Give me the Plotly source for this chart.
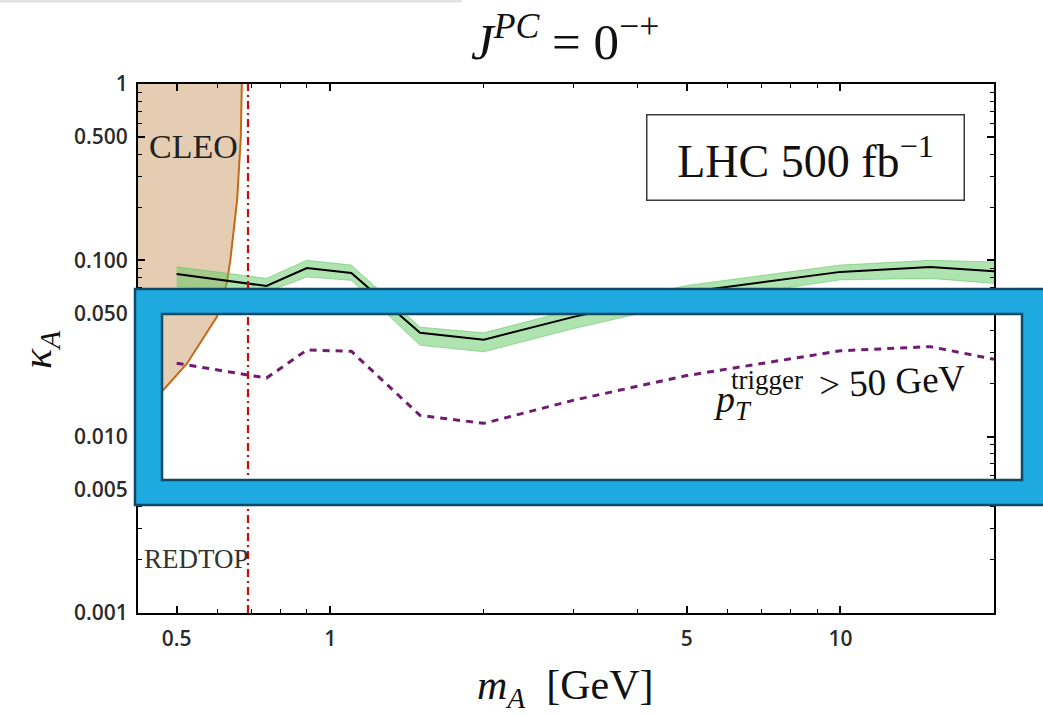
import math
import plotly.graph_objects as go

# Mass points of the LHC projection (GeV)
m_points = [0.5, 0.75, 0.9, 1.1, 1.5, 2.0, 3.0, 5.0, 10.0, 15.0, 20.0]
# Projected kappa_A reach: central line and its uncertainty band
kappa_central = [0.0836, 0.0715, 0.0904, 0.0847, 0.0388, 0.0355, 0.0478, 0.0660, 0.0860, 0.0916, 0.0868]
kappa_upper = [0.0920, 0.0790, 0.1000, 0.0940, 0.0418, 0.0388, 0.0525, 0.0720, 0.0940, 0.1000, 0.0980]
kappa_lower = [0.0710, 0.0660, 0.0805, 0.0770, 0.0330, 0.0303, 0.0410, 0.0575, 0.0775, 0.0790, 0.0740]
# Reach with a pT trigger threshold of 50 GeV
kappa_trigger = [0.0261, 0.0215, 0.0310, 0.0305, 0.0132, 0.0119, 0.0161, 0.0222, 0.0307, 0.0324, 0.0275]

# CLEO exclusion boundary (region to the left of the curve is excluded)
cleo_m = [0.673, 0.671, 0.668, 0.657, 0.637, 0.627, 0.600, 0.560, 0.524, 0.471, 0.420, 0.390]
cleo_kappa = [1.2, 1.0, 0.5, 0.22, 0.10, 0.074, 0.048, 0.035, 0.026, 0.0184, 0.0140, 0.0120]

# REDTOP reach edge (GeV)
redtop_m = 0.69

# Axis settings
X_MIN, X_MAX = 0.42, 20.0
Y_MIN, Y_MAX = 0.001, 1.0
x_major = [0.5, 1, 5, 10]
x_major_text = ["0.5", "1", "5", "10"]
x_minor = [0.6, 0.7, 0.8, 0.9, 2, 3, 4, 6, 7, 8, 9, 20]
y_major = [0.001, 0.005, 0.01, 0.05, 0.1, 0.5, 1]
y_major_text = ["0.001", "0.005", "0.010", "0.050", "0.100", "0.500", "1"]
y_minor = [0.002, 0.003, 0.004, 0.006, 0.007, 0.008, 0.009,
           0.02, 0.03, 0.04, 0.06, 0.07, 0.08, 0.09,
           0.2, 0.3, 0.4, 0.6, 0.7, 0.8, 0.9]

SERIF = "Liberation Serif, Times New Roman, serif"
TICKFONT = dict(family="Open Sans, sans-serif", size=21, color="#2b2b2b", weight=600)

fig = go.Figure()

# CLEO excluded region
fig.add_trace(go.Scatter(
    x=cleo_m + [X_MIN * 0.9, X_MIN * 0.9],
    y=cleo_kappa + [cleo_kappa[-1], Y_MAX * 1.2],
    mode="none", fill="toself", fillcolor="rgb(229,205,180)",
    hoverinfo="skip", showlegend=False))
fig.add_trace(go.Scatter(
    x=cleo_m, y=cleo_kappa, mode="lines",
    line=dict(color="rgb(196,106,22)", width=2),
    hoverinfo="skip", showlegend=False))

# Uncertainty band
fig.add_trace(go.Scatter(
    x=m_points, y=kappa_upper, mode="lines",
    line=dict(color="rgba(95,195,95,0.55)", width=1),
    hoverinfo="skip", showlegend=False))
fig.add_trace(go.Scatter(
    x=m_points, y=kappa_lower, mode="lines", fill="tonexty",
    fillcolor="rgba(95,200,95,0.5)",
    line=dict(color="rgba(95,195,95,0.55)", width=1),
    hoverinfo="skip", showlegend=False))

# Central projection
fig.add_trace(go.Scatter(
    x=m_points, y=kappa_central, mode="lines",
    line=dict(color="black", width=2), showlegend=False))

# Trigger-threshold projection
fig.add_trace(go.Scatter(
    x=m_points, y=kappa_trigger, mode="lines",
    line=dict(color="rgb(112,28,112)", width=3, dash="7px,6px"),
    showlegend=False))

# REDTOP reach edge
fig.add_trace(go.Scatter(
    x=[redtop_m, redtop_m], y=[Y_MIN, Y_MAX], mode="lines",
    line=dict(color="rgb(205,10,10)", width=2.2, dash="8px,4px,2px,4px"),
    hoverinfo="skip", showlegend=False))

axis_common = dict(
    type="log", showgrid=False, zeroline=False,
    showline=True, linecolor="black", linewidth=2, mirror="allticks",
    ticks="inside", ticklen=7, tickwidth=1.6, tickcolor="black",
    tickfont=TICKFONT,
)

fig.update_xaxes(
    **axis_common,
    range=[math.log10(X_MIN), math.log10(X_MAX)],
    tickvals=x_major, ticktext=x_major_text,
    ticklabelstandoff=6,
    minor=dict(tickvals=x_minor, ticks="inside", ticklen=4, tickwidth=1.4, tickcolor="black"),
)
fig.update_yaxes(
    **axis_common,
    range=[math.log10(Y_MIN), math.log10(Y_MAX)],
    tickvals=y_major, ticktext=y_major_text,
    ticklabelstandoff=4,
    minor=dict(tickvals=y_minor, ticks="inside", ticklen=4, tickwidth=1.4, tickcolor="black"),
)

# Plot area geometry in pixels, used to place overlays in paper units
L, R, T, B = 138, 49, 84, 102
W, H = 1043, 715
PW, PH = W - L - R, H - T - B


def px(xp):
    return (xp - L) / PW


def py(yp):
    return (H - B - yp) / PH


def label(text, x, y, size, xanchor="center", color="#111", **kw):
    return dict(text=text, x=px(x), y=py(y), xref="paper", yref="paper",
                xanchor=xanchor, yanchor="middle", showarrow=False,
                font=dict(family=SERIF, size=size, color=color), **kw)


annotations = [
    label("<i>J</i><sup><i>PC</i></sup> = 0<sup>−+</sup>", 565, 38, 51),
    label("<i>m</i><sub><i>A</i></sub>  [GeV]", 565, 688, 42),
    label("<i>κ</i><sub><i>A</i></sub>", 40, 350, 42, textangle=-90),
    label("LHC 500 fb<sup>−1</sup>", 805, 157, 46,
          width=312, height=80, borderpad=2,
          bordercolor="#3a3a3a", borderwidth=1.5, bgcolor="white"),
    label("CLEO", 147, 146, 34, xanchor="left", color="#222"),
    label("REDTOP", 142, 559, 27, xanchor="left", color="#333"),
    label("<i>p</i><sub><i>T</i></sub>", 711, 402, 38, xanchor="left"),
    label("trigger", 729, 380, 27, xanchor="left"),
    label("> 50 GeV", 816, 381, 37, xanchor="left", textangle=-3),
]

# Highlight frame drawn over the chart (outer rectangle minus inner rectangle)
ox0, ox1, oy0, oy1 = px(135), px(1060), py(289), py(505)
ix0, ix1, iy0, iy1 = px(162), px(1022), py(314), py(480)
frame_path = (
    f"M {ox0},{oy0} L {ox1},{oy0} L {ox1},{oy1} L {ox0},{oy1} Z "
    f"M {ix0},{iy0} L {ix0},{iy1} L {ix1},{iy1} L {ix1},{iy0} Z"
)
shapes = [
    dict(type="path", path=frame_path, xref="paper", yref="paper",
         fillcolor="rgb(30,170,225)", line=dict(color="rgb(12,74,104)", width=2.5),
         layer="above"),
    dict(type="line", xref="paper", yref="paper",
         x0=px(0), x1=px(462), y0=py(1), y1=py(1),
         line=dict(color="#e2e2e2", width=3)),
]

fig.update_layout(
    width=W, height=H,
    margin=dict(l=L, r=R, t=T, b=B),
    paper_bgcolor="white", plot_bgcolor="white",
    showlegend=False,
    annotations=annotations,
    shapes=shapes,
)

fig.write_html("out.html")
